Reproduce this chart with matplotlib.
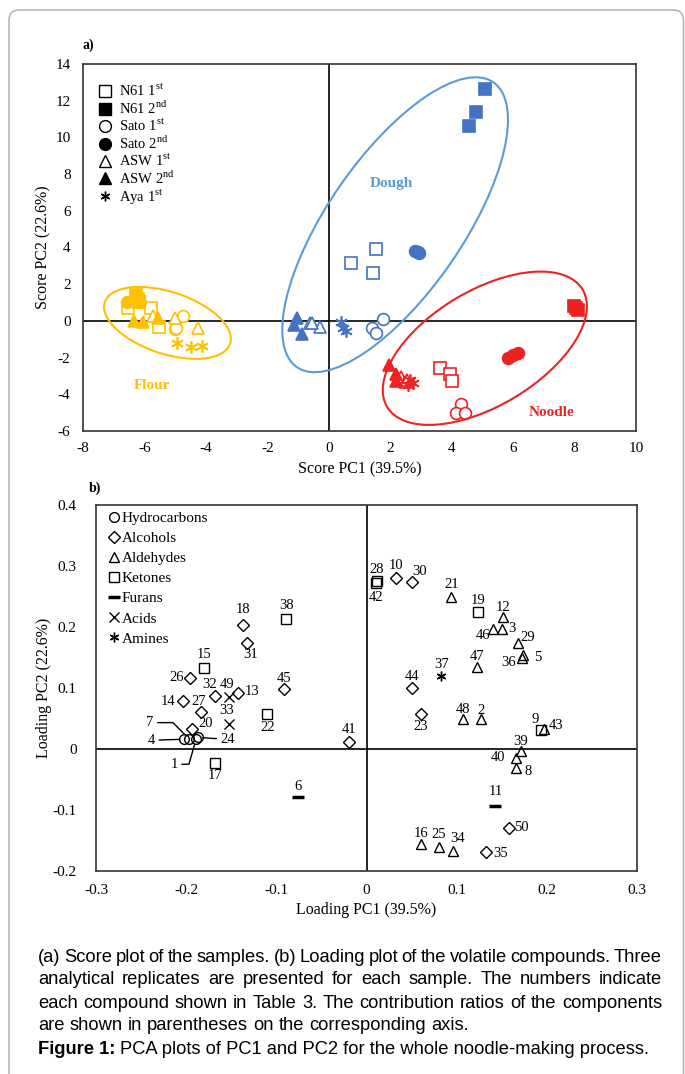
import matplotlib
matplotlib.use('Agg')
import matplotlib.pyplot as plt
import matplotlib.transforms as mtrans
from matplotlib.lines import Line2D
from matplotlib.patches import Ellipse, FancyBboxPatch

plt.rcParams['font.family'] = ['Liberation Serif', 'DejaVu Serif']
plt.rcParams['mathtext.fontset'] = 'custom'
plt.rcParams['mathtext.rm'] = 'Liberation Serif'
plt.rcParams['axes.unicode_minus'] = False

# ---- (a) score plot: 3 replicates per sample, order follows `samples`
samples = ['N61 1$^{\\mathrm{st}}$', 'N61 2$^{\\mathrm{nd}}$', 'Sato 1$^{\\mathrm{st}}$',
           'Sato 2$^{\\mathrm{nd}}$', 'ASW 1$^{\\mathrm{st}}$', 'ASW 2$^{\\mathrm{nd}}$',
           'Aya 1$^{\\mathrm{st}}$']
groups = ['Flour', 'Dough', 'Noodle']

flour_pc1 = [[-6.53, -5.79, -5.53], [-6.28, -6.22, -6.18], [-4.76, -5.00, -4.98],
             [-6.58, -6.15, -6.22], [-5.71, -5.00, -4.27], [-6.34, -6.04, -5.57],
             [-4.93, -4.47, -4.14]]
flour_pc2 = [[0.73, 0.73, -0.34], [1.42, 1.20, 1.02], [0.24, -0.44, -0.38],
             [1.02, 1.05, 1.12], [0.24, 0.15, -0.40], [0.00, -0.05, 0.15],
             [-1.18, -1.40, -1.36]]
dough_pc1 = [[1.55, 0.71, 1.44], [5.07, 4.80, 4.56], [1.77, 1.42, 1.53],
             [2.82, 2.90, 2.95], [-0.60, -0.27, -0.55], [-1.05, -1.13, -0.87],
             [0.41, 0.47, 0.55]]
dough_pc2 = [[3.94, 3.14, 2.63], [12.63, 11.41, 10.64], [0.11, -0.36, -0.67],
             [3.82, 3.78, 3.72], [-0.09, -0.31, -0.14], [0.15, -0.22, -0.73],
             [-0.04, -0.40, -0.53]]
noodle_pc1 = [[3.61, 3.93, 4.02], [7.98, 8.05, 8.10], [4.29, 4.13, 4.45],
              [5.83, 6.00, 6.16], [2.36, 2.47, 2.55], [1.96, 2.20, 2.18],
              [2.63, 2.74, 2.58]]
noodle_pc2 = [[-2.58, -2.89, -3.27], [0.80, 0.70, 0.62], [-4.52, -5.00, -5.00],
              [-2.03, -1.85, -1.73], [-3.07, -3.31, -3.22], [-2.40, -2.90, -3.30],
              [-3.22, -3.40, -3.49]]

# ---- (b) loading plot
compound_id = list(range(1, 51))
load_pc1 = [-0.189, 0.127, 0.150, -0.202, 0.174, -0.076, -0.197, 0.166, 0.194, 0.033,
            0.143, 0.151, -0.142, -0.204, -0.180, 0.060, -0.168, -0.137, 0.124, -0.193,
            0.094, -0.110, 0.060, -0.187, 0.080, -0.196, -0.184, 0.0115, 0.168, 0.050,
            -0.133, -0.168, -0.152, 0.096, 0.132, 0.172, 0.083, -0.089, 0.171, 0.166,
            -0.019, 0.010, 0.197, 0.051, -0.091, 0.140, 0.122, 0.107, -0.152, 0.158]
load_pc2 = [0.016, 0.049, 0.196, 0.016, 0.154, -0.079, 0.017, -0.031, 0.031, 0.280,
            -0.093, 0.217, 0.091, 0.078, 0.133, -0.156, -0.023, 0.203, 0.225, 0.032,
            0.249, 0.057, 0.057, 0.019, -0.160, 0.117, 0.061, 0.276, 0.173, 0.273,
            0.174, 0.087, 0.041, -0.167, -0.169, 0.150, 0.119, 0.213, -0.003, -0.014,
            0.012, 0.272, 0.033, 0.100, 0.098, 0.196, 0.135, 0.049, 0.086, -0.129]
classes = ['Hydrocarbons', 'Alcohols', 'Aldehydes', 'Ketones', 'Furans', 'Acids', 'Amines']
compound_class = ['Hydrocarbons', 'Aldehydes', 'Aldehydes', 'Hydrocarbons', 'Aldehydes',
                  'Furans', 'Hydrocarbons', 'Aldehydes', 'Ketones', 'Alcohols',
                  'Furans', 'Aldehydes', 'Alcohols', 'Alcohols', 'Ketones',
                  'Aldehydes', 'Ketones', 'Alcohols', 'Ketones', 'Alcohols',
                  'Aldehydes', 'Ketones', 'Alcohols', 'Hydrocarbons', 'Aldehydes',
                  'Alcohols', 'Alcohols', 'Ketones', 'Aldehydes', 'Alcohols',
                  'Alcohols', 'Alcohols', 'Acids', 'Aldehydes', 'Alcohols',
                  'Aldehydes', 'Amines', 'Ketones', 'Aldehydes', 'Aldehydes',
                  'Alcohols', 'Ketones', 'Aldehydes', 'Alcohols', 'Alcohols',
                  'Aldehydes', 'Aldehydes', 'Aldehydes', 'Acids', 'Alcohols']

# label offsets in pixels (x, y up) for the compound numbers
label_off = {2: (0, 9), 3: (10, 1), 5: (14, -2), 6: (0, 11), 8: (12, -4), 9: (-6, 11),
             10: (0, 13), 11: (0, 14), 12: (0, 9), 13: (14, 2), 14: (-15, 0), 15: (0, 13),
             16: (0, 11), 17: (0, -12), 18: (0, 16), 19: (0, 11), 20: (13, 6), 21: (0, 13),
             22: (0, -13), 23: (0, -12), 25: (0, 12), 26: (-13, 0), 27: (-2, 10),
             28: (0, 11), 29: (10, 6), 30: (8, 11), 31: (4, -12), 32: (-5, 11),
             33: (-3, 13), 34: (5, 12), 35: (15, -1), 36: (-13, -5), 37: (0, 12),
             38: (0, 14), 39: (0, 9), 40: (-18, 0), 41: (0, 12), 42: (0, -14),
             43: (12, 3), 44: (0, 12), 45: (0, 11), 46: (-10, -6), 47: (0, 10),
             48: (0, 10), 49: (-2, 12), 50: (12, 0)}
# numbers drawn with leader lines: offset, connection style
leader = {7: ((-39, 16), 'angle,angleA=0,angleB=-45,rad=0'),
          4: ((-33, -1), 'arc3'),
          24: ((30, -2), 'arc3'),
          1: ((-22, -25), 'angle,angleA=0,angleB=74,rad=0')}

group_color = {'Flour': '#FFC000', 'Dough': '#4472C4', 'Noodle': '#EE2222'}
ring_color = {'Flour': '#FFC000', 'Dough': '#5B9BD5', 'Noodle': '#EE2222'}
sample_marker = [('s', False), ('s', True), ('o', False), ('o', True),
                 ('^', False), ('^', True), ((6, 2, 0), False)]
class_marker = {'Hydrocarbons': 'o', 'Alcohols': 'D', 'Aldehydes': '^', 'Ketones': 's',
                'Furans': '_', 'Acids': 'x', 'Amines': (6, 2, 0)}
class_size = {'Hydrocarbons': 7, 'Alcohols': 6, 'Aldehydes': 7.5, 'Ketones': 7.5,
              'Furans': 9, 'Acids': 7, 'Amines': 7}

fig = plt.figure(figsize=(6.85, 10.74), dpi=100)
W, H = 685, 1074


def add_axes_px(l, t, r, b):
    return fig.add_axes([l / W, 1 - b / H, (r - l) / W, (b - t) / H])


def style_axes(ax):
    for s in ax.spines.values():
        s.set_color('#333333')
        s.set_linewidth(1.2)
    ax.axhline(0, color='black', lw=1.2, zorder=1)
    ax.axvline(0, color='black', lw=1.2, zorder=1)
    ax.tick_params(length=0, labelsize=11)


# ------------------------- (a)
ax1 = add_axes_px(83, 64, 636, 431)
ax1.set_xlim(-8, 10)
ax1.set_ylim(-6, 14)
ax1.set_xticks(range(-8, 11, 2))
ax1.set_yticks(range(-6, 15, 2))
style_axes(ax1)
ax1.tick_params(axis='y', pad=9)
ax1.tick_params(axis='x', pad=8)

for g, xs_all, ys_all in zip(groups, [flour_pc1, dough_pc1, noodle_pc1],
                             [flour_pc2, dough_pc2, noodle_pc2]):
    c = group_color[g]
    for (m, filled), xs, ys in zip(sample_marker, xs_all, ys_all):
        if m == (6, 2, 0):
            ax1.plot(xs, ys, ls='none', marker=m, ms=9, mec=c, mew=1.2, zorder=3)
        else:
            ax1.plot(xs, ys, ls='none', marker=m, ms=8 if m == 's' else 8.5,
                     mfc=c if filled else 'white', mec=c, mew=1.2, zorder=3 if filled else 2)

# group rings (centre in data units, size in pixels, angle in degrees)
rings = {'Flour': (-5.25, -0.11, 132, 62, -18.3),
         'Dough': (2.16, 5.24, 346, 135, 55.4),
         'Noodle': (5.08, -1.49, 228, 115, 31)}
for g, (cx, cy, w, h, ang) in rings.items():
    tr = fig.dpi_scale_trans + mtrans.ScaledTranslation(cx, cy, ax1.transData)
    ax1.add_patch(Ellipse((0, 0), w / 100, h / 100, angle=ang, transform=tr,
                          fill=False, ec=ring_color[g], lw=1.5, zorder=4))

ax1.text(2.04, 7.5, 'Dough', color='#5B9BD5', fontsize=11, fontweight='bold',
         ha='center', va='center')
ax1.text(-5.75, -3.52, 'Flour', color='#FFC000', fontsize=11, fontweight='bold',
         ha='center', va='center')
ax1.text(7.24, -5.0, 'Noodle', color='#EE2222', fontsize=11, fontweight='bold',
         ha='center', va='center')

handles = []
for (m, filled), lab in zip(sample_marker, samples):
    if m == (6, 2, 0):
        handles.append(Line2D([], [], ls='none', marker=m, ms=7, mec='black', mew=1.0, label=lab))
    else:
        handles.append(Line2D([], [], ls='none', marker=m, ms=8.5 if m != 's' else 8,
                              mfc='black' if filled else 'white', mec='black',
                              mew=1.0, label=lab))
ax1.legend(handles=handles, loc='upper left', bbox_to_anchor=(0.011, 0.977),
           frameon=False, fontsize=10.5, handlelength=0.8, handletextpad=0.55,
           labelspacing=0.03, borderaxespad=0.3)

ax1.set_xlabel('Score PC1 (39.5%)', fontsize=11.5)
ax1.set_ylabel('Score PC2 (22.6%)', fontsize=11.5)
ax1.xaxis.set_label_coords(0.5, -0.083)
ax1.yaxis.set_label_coords(-0.058, 0.5)
fig.text(88 / W, 1 - 45 / H, 'a)', fontsize=10, fontweight='bold', ha='center', va='center')

# ------------------------- (b)
ax2 = add_axes_px(96, 505, 637, 871)
ax2.set_xlim(-0.3, 0.3)
ax2.set_ylim(-0.2, 0.4)
ax2.set_xticks([-0.3, -0.2, -0.1, 0, 0.1, 0.2, 0.3])
ax2.set_xticklabels(['-0.3', '-0.2', '-0.1', '0', '0.1', '0.2', '0.3'])
ax2.set_yticks([-0.2, -0.1, 0, 0.1, 0.2, 0.3, 0.4])
ax2.set_yticklabels(['-0.2', '-0.1', '0', '0.1', '0.2', '0.3', '0.4'])
style_axes(ax2)
ax2.tick_params(axis='y', pad=14)
ax2.tick_params(axis='x', pad=9)

for cl in classes:
    xs = [x for x, k in zip(load_pc1, compound_class) if k == cl]
    ys = [y for y, k in zip(load_pc2, compound_class) if k == cl]
    m = class_marker[cl]
    if m in ('_', 'x') or m == (6, 2, 0):
        ax2.plot(xs, ys, ls='none', marker=m, ms=class_size[cl], mec='black',
                 mew=2.5 if m == '_' else 1.0, zorder=3)
    else:
        ax2.plot(xs, ys, ls='none', marker=m, ms=class_size[cl], mfc='none',
                 mec='black', mew=1.0, zorder=3)

for cid, x, y in zip(compound_id, load_pc1, load_pc2):
    if cid in leader:
        off, cs = leader[cid]
        ax2.annotate(str(cid), (x, y), xytext=off, textcoords='offset pixels',
                     ha='center', va='center', fontsize=10.5,
                     arrowprops=dict(arrowstyle='-', color='black', lw=1.0,
                                     connectionstyle=cs, shrinkA=1, shrinkB=3.5))
    else:
        ax2.annotate(str(cid), (x, y), xytext=label_off[cid], textcoords='offset pixels',
                     ha='center', va='center', fontsize=10.5)

handles2 = []
for cl in classes:
    m = class_marker[cl]
    if m in ('_', 'x') or m == (6, 2, 0):
        handles2.append(Line2D([], [], ls='none', marker=m, ms=class_size[cl], mec='black',
                               mew=2.5 if m == '_' else 1.0, label=cl))
    else:
        handles2.append(Line2D([], [], ls='none', marker=m, ms=class_size[cl], mfc='none',
                               mec='black', mew=1.0, label=cl))
ax2.legend(handles=handles2, loc='upper left', bbox_to_anchor=(0.005, 1.012),
           frameon=False, fontsize=11, handlelength=0.6, handletextpad=0.2,
           labelspacing=0.42, borderaxespad=0.3)

ax2.set_xlabel('Loading PC1 (39.5%)', fontsize=11.5)
ax2.set_ylabel('Loading PC2 (22.6%)', fontsize=11.5)
ax2.xaxis.set_label_coords(0.5, -0.086)
ax2.yaxis.set_label_coords(-0.081, 0.5)
fig.text(95 / W, 1 - 488 / H, 'b)', fontsize=10, fontweight='bold', ha='center', va='center')

# ------------------------- caption (justified)
cap_font = ['Liberation Sans', 'DejaVu Sans']
cap_size = 13.2
cap_lines = ['(a) Score plot of the samples. (b) Loading plot of the volatile compounds. Three',
             'analytical replicates are presented for each sample. The numbers indicate',
             'each compound shown in Table 3. The contribution ratios of the components',
             'are shown in parentheses on the corresponding axis.']
cap_y = [957, 980, 1003, 1026]
x0, x1 = 38, 662
rend = fig.canvas.get_renderer()
for i, (line, yy) in enumerate(zip(cap_lines, cap_y)):
    words = line.split(' ')
    ts = [fig.text(0, 1 - yy / H, w, fontsize=cap_size, family=cap_font, va='center')
          for w in words]
    widths = [t.get_window_extent(rend).width for t in ts]
    if i < len(cap_lines) - 1:
        gap = (x1 - x0 - sum(widths)) / (len(words) - 1)
    else:
        gap = 0.278 * cap_size * 100 / 72
    xx = x0
    for t, w in zip(ts, widths):
        t.set_x(xx / W)
        xx += w + gap

t_bold = fig.text(x0 / W, 1 - 1049 / H, 'Figure 1:', fontsize=cap_size, family=cap_font,
                  fontweight='bold', va='center')
bw = t_bold.get_window_extent(rend).width
fig.text((x0 + bw + 5) / W, 1 - 1049 / H,
         'PCA plots of PC1 and PC2 for the whole noodle-making process.',
         fontsize=cap_size, family=cap_font, va='center')

# outer frame
fig.patches.append(FancyBboxPatch((0.09, -0.2), 6.745, 10.84,
                                  boxstyle='round,pad=0,rounding_size=0.1',
                                  transform=fig.dpi_scale_trans, fill=False,
                                  ec='#aaaaaa', lw=1.0))

fig.savefig('out.png', dpi=100)
